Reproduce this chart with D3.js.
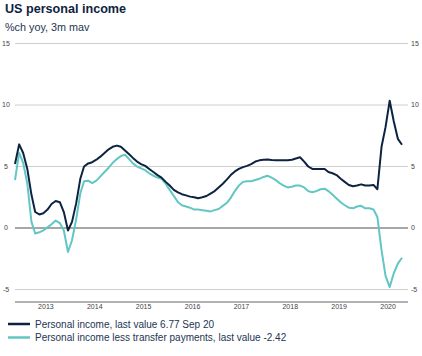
<!DOCTYPE html>
<html>
<head>
<meta charset="utf-8">
<script src="https://cdn.jsdelivr.net/npm/d3@7"></script>
<style>
  html, body { margin: 0; padding: 0; background: #fff; }
  svg { display: block; font-family: "Liberation Sans", Arial, Helvetica, sans-serif; }
</style>
</head>
<body>
<svg id="chart" width="422" height="356"></svg>
<script>
// ---- Data (monthly, Oct 2012 .. Sep 2020) ----
const firstMonth = new Date(2012, 9, 1);
const lastMonth = new Date(2020, 8, 1);

const personalIncome = [
  5.2, 6.8, 6.1, 4.8, 2.7, 1.3, 1.1, 1.2, 1.5, 1.95,
  2.2, 2.1, 1.3, -0.2, 0.5, 2.0, 4.0, 5.0, 5.25, 5.35,
  5.55, 5.8, 6.1, 6.4, 6.6, 6.7, 6.6, 6.3, 6.0, 5.7,
  5.4, 5.2, 5.05, 4.8, 4.55, 4.3, 4.1, 3.75, 3.45, 3.1,
  2.9, 2.75, 2.65, 2.55, 2.5, 2.42, 2.5, 2.6, 2.8, 3.0,
  3.3, 3.6, 3.95, 4.3, 4.6, 4.8, 4.95, 5.05, 5.2, 5.4,
  5.5, 5.55, 5.57, 5.52, 5.5, 5.5, 5.5, 5.5, 5.55, 5.65,
  5.75, 5.4, 5.0, 4.8, 4.8, 4.8, 4.8, 4.55, 4.45, 4.3,
  4.0, 3.75, 3.5, 3.4, 3.45, 3.55, 3.45, 3.45, 3.5, 3.15,
  6.6, 8.2, 10.35, 8.7, 7.25, 6.77
];

const incomeLessTransfers = [
  3.9, 6.1, 5.3, 3.6, 0.5, -0.45, -0.35, -0.2, 0.05, 0.3,
  0.6, 0.4, -0.2, -1.95, -1.0, 0.7, 2.8, 3.8, 3.85, 3.65,
  3.85, 4.2, 4.55, 4.9, 5.3, 5.6, 5.85, 5.95, 5.6, 5.25,
  5.0, 4.85, 4.7, 4.45, 4.25, 4.1, 4.0, 3.6, 3.1, 2.6,
  2.1, 1.85, 1.75, 1.65, 1.5, 1.5, 1.45, 1.4, 1.35, 1.45,
  1.55, 1.8, 2.05, 2.45, 3.0, 3.45, 3.75, 3.8, 3.8, 3.9,
  4.0, 4.15, 4.25, 4.1, 3.9, 3.65, 3.45, 3.3, 3.35, 3.45,
  3.45, 3.3, 3.0, 2.9, 3.0, 3.15, 3.2, 3.0, 2.7, 2.4,
  2.1, 1.85, 1.65, 1.6, 1.75, 1.8, 1.6, 1.6, 1.5, 0.9,
  -1.8, -3.9, -4.8, -3.7, -2.9, -2.42
];

const yTicks = [-5, 0, 5, 10, 15];
const yearLabels = ["2013", "2014", "2015", "2016", "2017", "2018", "2019", "2020"];

const titleText = "US personal income";
const subtitleText = "%ch yoy, 3m mav";
const seriesNames = [
  "Personal income, last value 6.77 Sep 20",
  "Personal income less transfer payments, last value -2.42"
];
const seriesColors = ["#0d2341", "#62c6c2"];

// ---- Build ----
const months = d3.timeMonth.range(firstMonth, d3.timeMonth.offset(lastMonth, 1));
const svg = d3.select("#chart");

const x = d3.scaleTime().domain([firstMonth, lastMonth]).range([15, 402]);
const y = d3.scaleLinear().domain([-5, 15]).range([289.5, 43.5]);
const gridLeft = 15, gridRight = 408;

// Title & subtitle
svg.append("text").attr("x", 5).attr("y", 13)
  .attr("font-size", 12.6).attr("font-weight", "bold").attr("fill", "#0d2341")
  .text(titleText);
svg.append("text").attr("x", 5).attr("y", 30.5)
  .attr("font-size", 10.8).attr("fill", "#233553")
  .text(subtitleText);

// Gridlines
const grid = svg.append("g");
grid.selectAll("line").data(yTicks).join("line")
  .attr("x1", gridLeft).attr("x2", gridRight)
  .attr("y1", d => y(d)).attr("y2", d => y(d))
  .attr("stroke", d => d === 0 ? "#8a8a8a" : "#cfcfcf")
  .attr("stroke-width", d => d === 0 ? 1.4 : 1);

// Left & right tick labels
svg.append("g").selectAll("text").data(yTicks).join("text")
  .attr("x", 6).attr("y", d => y(d)).attr("dy", "0.35em")
  .attr("text-anchor", "middle").attr("font-size", 7).attr("fill", "#444")
  .text(d => d);
svg.append("g").selectAll("text").data(yTicks).join("text")
  .attr("x", 411).attr("y", d => y(d)).attr("dy", "0.35em")
  .attr("text-anchor", "start").attr("font-size", 7).attr("fill", "#444")
  .text(d => d);

// Bottom axis line
svg.append("line").attr("x1", gridLeft).attr("x2", gridRight)
  .attr("y1", 302).attr("y2", 302).attr("stroke", "#999").attr("stroke-width", 1.4);

// Year labels (centred within each year's span)
svg.append("g").selectAll("text").data(yearLabels).join("text")
  .attr("x", d => x(new Date(+d, 4, 20)))
  .attr("y", 307).attr("dy", "0.35em")
  .attr("text-anchor", "middle").attr("font-size", 7).attr("fill", "#444")
  .text(d => d);

// Lines
const line = d3.line().x((d, i) => x(months[i])).y(d => y(d));
[incomeLessTransfers, personalIncome].forEach((s, k) => {
  svg.append("path").datum(s)
    .attr("d", line)
    .attr("fill", "none")
    .attr("stroke", k === 0 ? seriesColors[1] : seriesColors[0])
    .attr("stroke-width", 2)
    .attr("stroke-linejoin", "round");
});

// Legend
const legend = svg.append("g");
seriesNames.forEach((name, i) => {
  const ly = 324 + i * 13.5;
  legend.append("line").attr("x1", 8).attr("x2", 30).attr("y1", ly).attr("y2", ly)
    .attr("stroke", seriesColors[i]).attr("stroke-width", 2.5);
  legend.append("text").attr("x", 35).attr("y", ly).attr("dy", "0.35em")
    .attr("font-size", 10).attr("fill", "#233553").text(name);
});
</script>
</body>
</html>
